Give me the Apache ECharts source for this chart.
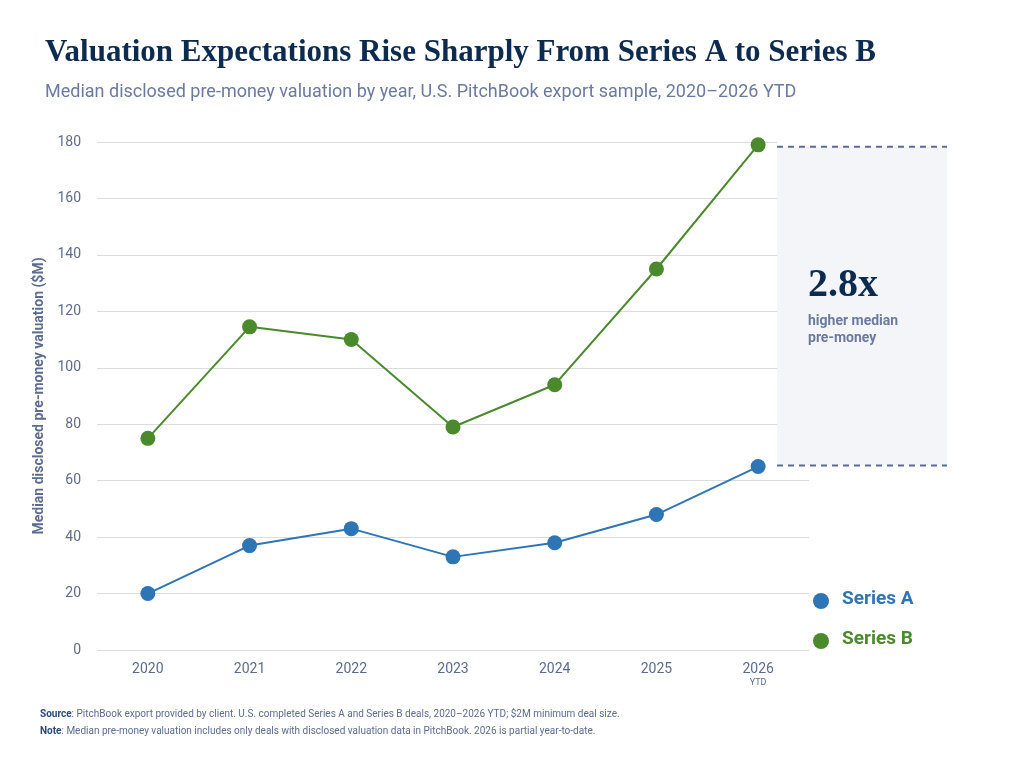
<!DOCTYPE html><html><head><meta charset="utf-8">
<script src="https://cdn.jsdelivr.net/npm/echarts@6/dist/echarts.min.js"></script>
<style>body{margin:0}#c{width:1024px;height:768px}</style></head><body><div id="c"></div>
<script>
const years=['2020','2021','2022','2023','2024','2025','2026'];
const seriesA=[20,37,43,33,38,48,65];
const seriesB=[75,114.5,110,79,94,135,179];
const ratioLabel='2.8x';
const ch=echarts.init(document.getElementById('c'));
const F='Roboto';
ch.setOption({
animation:false,
grid:{left:97,top:142,width:712,height:508},
xAxis:{type:'category',data:years,axisLine:{show:false},axisTick:{show:false},
 axisLabel:{color:'#5d6b8f',fontFamily:F,fontSize:14,margin:12,
  formatter:v=>v==='2026'?v+'\n{s|YTD}':v,rich:{s:{fontSize:9,color:'#5d6b8f',fontFamily:F,lineHeight:14}}}},
yAxis:{type:'value',min:0,max:180,interval:20,
 name:'Median disclosed pre-money valuation ($M)',nameLocation:'middle',nameGap:45,
 nameTextStyle:{color:'#5d6b8f',fontFamily:F,fontSize:14,fontWeight:'bold'},
 axisLabel:{color:'#5d6b8f',fontFamily:F,fontSize:14,margin:16},
 splitLine:{lineStyle:{color:'#dcdcdc'}}},
series:[
{name:'Series A',type:'line',data:seriesA,symbol:'circle',symbolSize:15,color:'#2e75b6',lineStyle:{width:2},z:5},
{name:'Series B',type:'line',data:seriesB,symbol:'circle',symbolSize:15,color:'#4a8a2c',lineStyle:{width:2},z:5}
],
title:[{text:'Valuation Expectations Rise Sharply From Series A to Series B',left:40,top:32,
 textStyle:{fontFamily:'Liberation Serif',fontSize:31,fontWeight:'bold',color:'#0d2a4f'}},
 {text:'Median disclosed pre-money valuation by year, U.S. PitchBook export sample, 2020–2026 YTD',left:40,top:78,
 textStyle:{fontFamily:F,fontSize:18,fontWeight:'normal',color:'#6b7a9e'}}]
});
const pTop=ch.convertToPixel({seriesIndex:1},[6,seriesB[6]]);
const pBot=ch.convertToPixel({seriesIndex:0},[6,seriesA[6]]);
const y1=pTop[1]+2,y2=pBot[1]-1;
ch.setOption({graphic:[
{type:'rect',shape:{x:777,y:y1,width:170,height:y2-y1},style:{fill:'#f3f5f9'},z:3},
{type:'rect',shape:{x:777,y:120,width:40,height:y1-121},style:{fill:'#fff'},z:3},
{type:'line',shape:{x1:777,y1:y1,x2:947,y2:y1},style:{stroke:'#5d6b99',lineWidth:2,lineDash:[6,5]},z:4},
{type:'line',shape:{x1:777,y1:y2,x2:947,y2:y2},style:{stroke:'#5d6b99',lineWidth:2,lineDash:[6,5]},z:4},
{type:'text',left:808,top:266,style:{text:ratioLabel,font:'bold 40px "Liberation Serif"',fill:'#0d2a4f'},z:6},
{type:'text',left:808,top:313,style:{text:'higher median\npre-money',font:'bold 14px Roboto',fill:'#6b7a9e',lineHeight:17},z:6},
{type:'circle',shape:{cx:821,cy:601,r:8},style:{fill:'#2e75b6'},z:6},
{type:'text',left:842,top:590,style:{text:'Series A',font:'bold 19px Roboto',fill:'#2e75b6'},z:6},
{type:'circle',shape:{cx:821,cy:641,r:8},style:{fill:'#4a8a2c'},z:6},
{type:'text',left:842,top:630,style:{text:'Series B',font:'bold 19px Roboto',fill:'#4a8a2c'},z:6},
{type:'text',left:40,top:709,style:{rich:{b:{fontWeight:'bold',fontSize:10,fontFamily:F,fill:'#2a4a7a'},n:{fontSize:10,fontFamily:F,fill:'#5d6b8f'}},
 text:'{b|Source}{n|: PitchBook export provided by client. U.S. completed Series A and Series B deals, 2020–2026 YTD; $2M minimum deal size.}'}},
{type:'text',left:40,top:726,style:{rich:{b:{fontWeight:'bold',fontSize:10,fontFamily:F,fill:'#2a4a7a'},n:{fontSize:10,fontFamily:F,fill:'#5d6b8f'}},
 text:'{b|Note}{n|: Median pre-money valuation includes only deals with disclosed valuation data in PitchBook. 2026 is partial year-to-date.}'}}
]});
</script></body></html>
